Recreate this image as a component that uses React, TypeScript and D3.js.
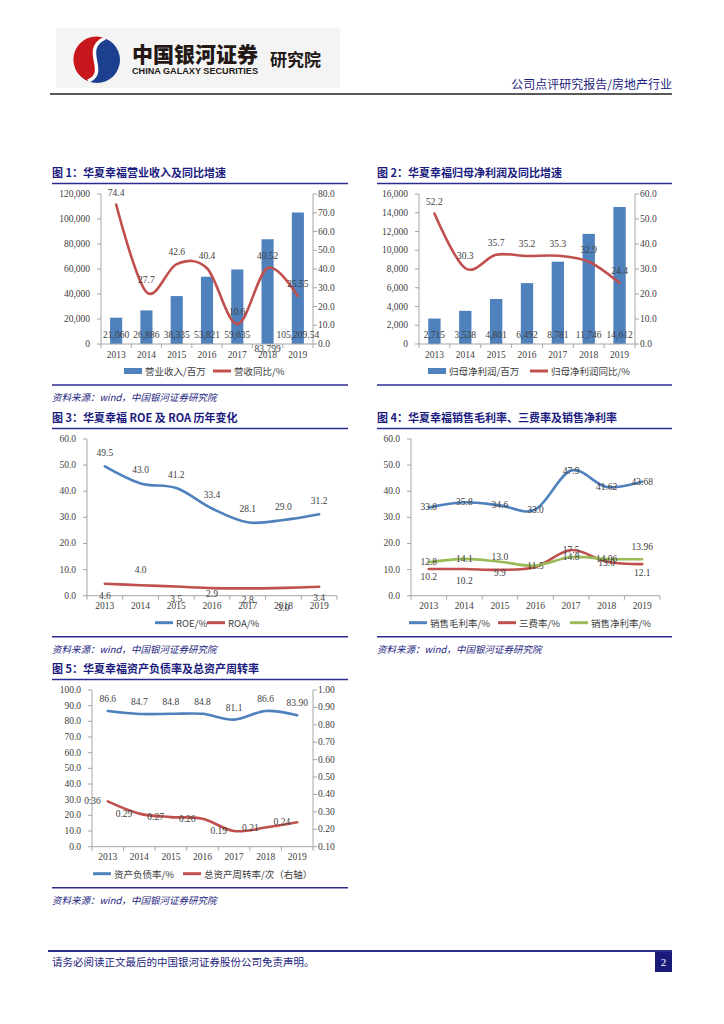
import * as d3 from 'd3'

// ---- data ----
const years = ['2013', '2014', '2015', '2016', '2017', '2018', '2019']

// 图1 营业收入（百万）及同比（%）
const revenue = [21060, 26886, 38335, 53821, 59635, 83799, 105209.54]
const revenueYoY = ['74.4', '27.7', '42.6', '40.4', '10.6', '40.52', '25.55']

// 图2 归母净利润（百万）及同比（%）
const netProfit = [2715, 3538, 4801, 6492, 8781, 11746, 14612]
const netProfitYoY = ['52.2', '30.3', '35.7', '35.2', '35.3', '32.9', '24.4']

// 图3 ROE / ROA（%）
const roe = ['49.5', '43.0', '41.2', '33.4', '28.1', '29.0', '31.2']
const roa = ['4.6', '4.0', '3.5', '2.9', '2.8', '3.0', '3.4']

// 图4 销售毛利率、三费率、销售净利率（%）
const grossMargin = ['33.8', '35.8', '34.6', '33.0', '47.9', '41.62', '43.68']
const expenseRatio = ['10.2', '10.2', '9.9', '11.0', '17.5', '13.0', '12.1']
const netMargin = ['12.8', '14.1', '13.0', '11.5', '14.8', '14.06', '13.96']

// 图5 资产负债率（%）及总资产周转率（次，右轴）
const debtRatio = ['86.6', '84.7', '84.8', '84.8', '81.1', '86.6', '83.90']
const assetTurnover = ['0.36', '0.29', '0.27', '0.26', '0.19', '0.21', '0.24']

// ---- styling ----
const BLUE = '#4F81BD'
const RED = '#C0504D'
const GREEN = '#9BBB59'
const NAVY = '#1c1c80'
const NAVY_LINE = '#2b2b90'
const AXIS = '#A6A6A6'
const TXT = '#404040'
const NUM = '"Liberation Serif", "DejaVu Serif", serif'
const CJK = '"Noto Sans CJK SC", "Noto Sans", sans-serif'

// Excel put some labels in odd spots, nudge them the same way
const revenueBarDy = [0, 0, 0, 0, 0, 14, 0]
const roaDy = [12, -15, 12, 6, 12, 20, 11]
const expenseDy = [8, 12, 3, 0, 0, 1, 9]
const netMarginDy = [0, 0, -5, 0, 0, 0, -12]

type Axis = { domain: [number, number]; step: number; fmt: string }
type LineDef = {
  values: string[]
  color: string
  right?: boolean
  place: 'above' | 'center' | 'left'
  dy?: number[]
  hide?: number[]
}
type BarDef = { values: number[]; color: string; dy?: number[] }
type LegendDef = { label: string; kind: 'bar' | 'line'; color: string; x: number }

interface PanelProps {
  title: string
  x0: number
  x1: number
  plot: [number, number, number, number]
  left: Axis
  right?: Axis
  bars?: BarDef
  lines: LineDef[]
  legend: LegendDef[]
  source?: boolean
}

const tickValues = (a: Axis) =>
  d3.range(0, Math.round((a.domain[1] - a.domain[0]) / a.step) + 1).map(k => a.domain[0] + k * a.step)

function Panel(p: PanelProps) {
  const [L, R, T, B] = p.plot
  const x = d3.scaleBand<string>().domain(years).range([L, R]).padding(0)
  const xc = (i: number) => (x(years[i]) ?? 0) + x.bandwidth() / 2
  const yl = d3.scaleLinear().domain(p.left.domain).range([B, T])
  const yr = p.right ? d3.scaleLinear().domain(p.right.domain).range([B, T]) : yl
  const lf = d3.format(p.left.fmt)
  const rf = p.right ? d3.format(p.right.fmt) : lf
  const bw = x.bandwidth() * 0.4
  const barFmt = d3.format(',')

  return (
    <g>
      {/* title */}
      <text x={p.x0} y={T - 17} fontFamily={CJK} fontWeight={700} fontSize={11} fill={NAVY}>
        {p.title}
      </text>
      <line x1={p.x0} x2={p.x1} y1={T - 10.5} y2={T - 10.5} stroke={NAVY_LINE} strokeWidth={1.5} />

      {/* bars */}
      {p.bars &&
        p.bars.values.map((v, i) => (
          <rect key={'b' + i} x={xc(i) - bw / 2} y={yl(v)} width={bw} height={B - yl(v)} fill={p.bars!.color} />
        ))}

      {/* left axis */}
      <line x1={L} x2={L} y1={T} y2={B} stroke={AXIS} />
      {tickValues(p.left).map(t => (
        <g key={'l' + t}>
          <line x1={L - 4} x2={L} y1={yl(t)} y2={yl(t)} stroke={AXIS} />
          <text x={L - 11} y={yl(t)} textAnchor="end" dominantBaseline="central" fontFamily={NUM} fontSize={9.5} fill={TXT}>
            {lf(t)}
          </text>
        </g>
      ))}

      {/* right axis */}
      {p.right && (
        <g>
          <line x1={R} x2={R} y1={T} y2={B} stroke={AXIS} />
          {tickValues(p.right).map(t => (
            <g key={'r' + t}>
              <line x1={R} x2={R + 4} y1={yr(t)} y2={yr(t)} stroke={AXIS} />
              <text x={R + 5} y={yr(t)} dominantBaseline="central" fontFamily={NUM} fontSize={9.5} fill={TXT}>
                {rf(t)}
              </text>
            </g>
          ))}
        </g>
      )}

      {/* x axis */}
      <line x1={L} x2={R} y1={B} y2={B} stroke={AXIS} />
      {d3.range(years.length + 1).map(k => {
        const xx = L + k * x.step()
        return <line key={'xt' + k} x1={xx} x2={xx} y1={B} y2={B + 4} stroke={AXIS} />
      })}
      {years.map((yv, i) => (
        <text key={'xl' + yv} x={xc(i)} y={B + 10.5} textAnchor="middle" dominantBaseline="central" fontFamily={NUM} fontSize={9.5} fill={TXT}>
          {yv}
        </text>
      ))}

      {/* lines */}
      {p.lines.map((s, si) => {
        const ys = s.right ? yr : yl
        const vals = s.values.map(Number)
        const gen = d3
          .line<number>()
          .x((_, i) => xc(i))
          .y(d => ys(d))
          .curve(d3.curveCardinal.tension(0))
        return <path key={'p' + si} d={gen(vals) ?? ''} fill="none" stroke={s.color} strokeWidth={2.6} strokeLinecap="round" />
      })}

      {/* bar labels */}
      {p.bars &&
        p.bars.values.map((v, i) => (
          <text
            key={'bl' + i}
            x={xc(i)}
            y={B - 9.5 + (p.bars!.dy ? p.bars!.dy[i] : 0)}
            textAnchor="middle"
            dominantBaseline="central"
            fontFamily={NUM}
            fontSize={9.5}
            fill={TXT}
          >
            {barFmt(v)}
          </text>
        ))}

      {/* line labels */}
      {p.lines.map((s, si) => {
        const ys = s.right ? yr : yl
        return s.values.map((lab, i) => {
          if (s.hide && s.hide.includes(i)) return null
          const py = ys(Number(lab))
          const dy = s.dy ? s.dy[i] : 0
          let tx = xc(i)
          let ty = py + dy
          let anchor: 'middle' | 'end' = 'middle'
          if (s.place === 'above') ty = py - 12 + dy
          if (s.place === 'left') {
            tx = xc(i) - 7
            anchor = 'end'
          }
          return (
            <text key={'ll' + si + '-' + i} x={tx} y={ty} textAnchor={anchor} dominantBaseline="central" fontFamily={NUM} fontSize={9.5} fill={TXT}>
              {lab}
            </text>
          )
        })
      })}

      {/* legend */}
      {p.legend.map(l => (
        <g key={'lg' + l.label}>
          {l.kind === 'bar' ? (
            <rect x={l.x} y={B + 24} width={18} height={6} fill={l.color} />
          ) : (
            <line x1={l.x} x2={l.x + 18} y1={B + 27} y2={B + 27} stroke={l.color} strokeWidth={3} />
          )}
          <text x={l.x + 21} y={B + 27} dominantBaseline="central" fontFamily={CJK} fontSize={9.5} fill={TXT}>
            {l.label}
          </text>
        </g>
      ))}

      {/* bottom rule and source */}
      <line x1={p.x0} x2={p.x1} y1={B + 41} y2={B + 41} stroke={NAVY_LINE} strokeWidth={1.5} />
      {p.source && (
        <text x={p.x0} y={B + 57} fontFamily={CJK} fontStyle="italic" fontSize={9.5} fill={NAVY}>
          资料来源：wind，中国银河证券研究院
        </text>
      )}
    </g>
  )
}

function Header() {
  return (
    <g>
      <rect x={56} y={28} width={284} height={60} fill="#f4f4f4" />
      <circle cx={97} cy={60} r={23} fill="#1d3f8f" />
      <path d="M105,38 A23,23 0 0 0 88,81 C110,72 80,50 105,38 Z" fill="#c8161d" />
      <path d="M105,38 C80,50 110,72 88,81" fill="none" stroke="#fff" strokeWidth={3.5} />
      <text x={132} y={62} fontFamily={CJK} fontWeight={900} fontSize={21} fill="#231815">
        中国银河证券
      </text>
      <text
        x={132}
        y={74}
        fontFamily='"Liberation Sans", Arial, sans-serif'
        fontWeight={700}
        fontSize={8.5}
        textLength={126}
        lengthAdjust="spacingAndGlyphs"
        fill="#231815"
      >
        CHINA GALAXY SECURITIES
      </text>
      <text x={270} y={66} fontFamily={CJK} fontWeight={700} fontSize={17} fill="#231815">
        研究院
      </text>
      <text x={672} y={89} textAnchor="end" fontFamily={CJK} fontSize={12} fill={NAVY}>
        公司点评研究报告/房地产行业
      </text>
      <line x1={50} x2={672} y1={94} y2={94} stroke="#595959" strokeWidth={2} />
    </g>
  )
}

function Footer() {
  return (
    <g>
      <line x1={48} x2={672} y1={951} y2={951} stroke={NAVY_LINE} strokeWidth={2} />
      <text x={52} y={966} fontFamily={CJK} fontSize={10.5} fill={NAVY}>
        请务必阅读正文最后的中国银河证券股份公司免责声明。
      </text>
      <rect x={655} y={952} width={17} height={20} fill="#1a1a7a" />
      <text x={663.5} y={966} textAnchor="middle" fontFamily={NUM} fontSize={11} fill="#fff">
        2
      </text>
    </g>
  )
}

export default function App() {
  return (
    <svg width={724} height={1024} viewBox="0 0 724 1024" style={{ position: 'absolute', left: 0, top: 0, background: '#fff' }}>
      <Header />
      <Panel
        title="图 1：华夏幸福营业收入及同比增速"
        x0={52}
        x1={348}
        plot={[101, 313, 194, 344]}
        left={{ domain: [0, 120000], step: 20000, fmt: ',' }}
        right={{ domain: [0, 80], step: 10, fmt: '.1f' }}
        bars={{ values: revenue, color: BLUE, dy: revenueBarDy }}
        lines={[{ values: revenueYoY, color: RED, right: true, place: 'above' }]}
        legend={[
          { label: '营业收入/百万', kind: 'bar', color: BLUE, x: 124 },
          { label: '营收同比/%', kind: 'line', color: RED, x: 213 },
        ]}
        source
      />
      <Panel
        title="图 2：华夏幸福归母净利润及同比增速"
        x0={377}
        x1={672}
        plot={[419, 635, 194, 344]}
        left={{ domain: [0, 16000], step: 2000, fmt: ',' }}
        right={{ domain: [0, 60], step: 10, fmt: '.1f' }}
        bars={{ values: netProfit, color: BLUE }}
        lines={[{ values: netProfitYoY, color: RED, right: true, place: 'above' }]}
        legend={[
          { label: '归母净利润/百万', kind: 'bar', color: BLUE, x: 428 },
          { label: '归母净利润同比/%', kind: 'line', color: RED, x: 530 },
        ]}
      />
      <Panel
        title="图 3：华夏幸福 ROE 及 ROA 历年变化"
        x0={52}
        x1={348}
        plot={[87, 337, 439, 595.7]}
        left={{ domain: [0, 60], step: 10, fmt: '.1f' }}
        lines={[
          { values: roe, color: BLUE, place: 'above', dy: [-1, -1, -1, -1, -1, -1, -1] },
          { values: roa, color: RED, place: 'center', dy: roaDy },
        ]}
        legend={[
          { label: 'ROE/%', kind: 'line', color: BLUE, x: 155 },
          { label: 'ROA/%', kind: 'line', color: RED, x: 207 },
        ]}
        source
      />
      <Panel
        title="图 4：华夏幸福销售毛利率、三费率及销售净利率"
        x0={377}
        x1={672}
        plot={[411, 660, 439, 595.7]}
        left={{ domain: [0, 60], step: 10, fmt: '.1f' }}
        lines={[
          { values: grossMargin, color: BLUE, place: 'center' },
          { values: expenseRatio, color: RED, place: 'center', dy: expenseDy, hide: [3] },
          { values: netMargin, color: GREEN, place: 'center', dy: netMarginDy },
        ]}
        legend={[
          { label: '销售毛利率/%', kind: 'line', color: BLUE, x: 409 },
          { label: '三费率/%', kind: 'line', color: RED, x: 498 },
          { label: '销售净利率/%', kind: 'line', color: GREEN, x: 570 },
        ]}
        source
      />
      <Panel
        title="图 5：华夏幸福资产负债率及总资产周转率"
        x0={52}
        x1={348}
        plot={[92, 313, 690, 846.7]}
        left={{ domain: [0, 100], step: 10, fmt: '.1f' }}
        right={{ domain: [0.1, 1.0], step: 0.1, fmt: '.2f' }}
        lines={[
          { values: debtRatio, color: BLUE, place: 'above' },
          { values: assetTurnover, color: RED, right: true, place: 'left' },
        ]}
        legend={[
          { label: '资产负债率/%', kind: 'line', color: BLUE, x: 93 },
          { label: '总资产周转率/次（右轴）', kind: 'line', color: RED, x: 183 },
        ]}
        source
      />
      <Footer />
    </svg>
  )
}
